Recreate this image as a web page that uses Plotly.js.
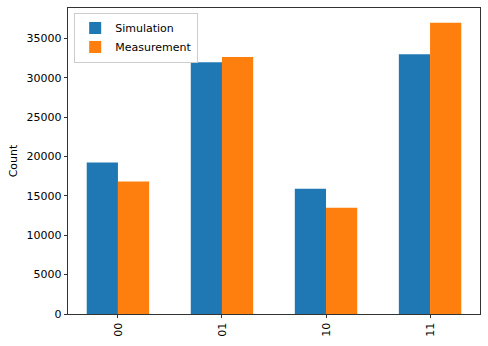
<!DOCTYPE html>
<html>
<head>
<meta charset="utf-8">
<script src="https://cdn.plot.ly/plotly-3.0.1.min.js"></script>
<style>
  html, body { margin: 0; padding: 0; background: #fff; }
  #chart { width: 488px; height: 346px; }
</style>
</head>
<body>
<div id="chart"></div>
<script>
// measurement outcomes (bitstrings)
const states = ['00', '01', '10', '11'];
const simulationCounts = [19220, 31950, 15890, 32970];
const measurementCounts = [16810, 32630, 13480, 36980];
const yTicks = [0, 5000, 10000, 15000, 20000, 25000, 30000, 35000];

const font = {family: 'DejaVu Sans', size: 11, color: '#000'};

const traces = [
    {
        type: 'bar',
        name: 'Simulation',
        x: states,
        y: simulationCounts,
        marker: {color: '#1f77b4'}
    },
    {
        type: 'bar',
        name: 'Measurement',
        x: states,
        y: measurementCounts,
        marker: {color: '#ff7f0e'}
    }
];

const layout = {
    width: 488,
    height: 346,
    margin: {l: 68, r: 8, t: 8, b: 32},
    paper_bgcolor: '#fff',
    plot_bgcolor: '#fff',
    font: font,
    barmode: 'group',
    bargap: 0.4,
    bargroupgap: 0,
    showlegend: true,
    legend: {
        x: 0.015, y: 0.985, xanchor: 'left', yanchor: 'top',
        bgcolor: 'rgba(255,255,255,0.8)',
        bordercolor: '#ccc', borderwidth: 1,
        font: font,
        tracegroupgap: 0
    },
    xaxis: {
        type: 'category',
        range: [-0.48, 3.48],
        tickangle: -90,
        ticks: 'outside', ticklen: 3.5, tickwidth: 0.8, tickcolor: '#000',
        showline: true, mirror: true, linecolor: '#000', linewidth: 0.8,
        showgrid: false, zeroline: false,
        automargin: false,
        tickfont: font
    },
    yaxis: {
        range: [0, 38850],
        tickvals: yTicks,
        ticktext: yTicks.map(String),
        ticks: 'outside', ticklen: 3.5, tickwidth: 0.8, tickcolor: '#000',
        showline: true, mirror: true, linecolor: '#000', linewidth: 0.8,
        showgrid: false, zeroline: false,
        automargin: false,
        tickfont: font,
        title: {text: 'Count', font: font, standoff: 6}
    }
};

Plotly.newPlot('chart', traces, layout, {displayModeBar: false, staticPlot: true});
</script>
</body>
</html>
